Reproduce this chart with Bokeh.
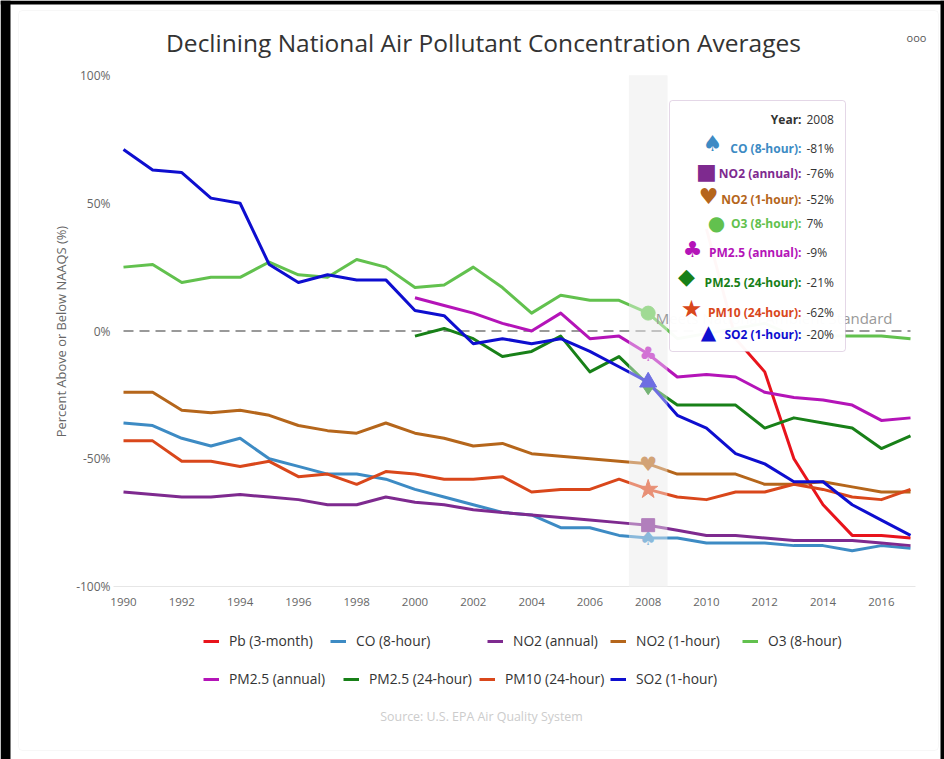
import math
import numpy as np
from bokeh.plotting import figure
from bokeh.models import Legend, LegendItem, Label, BoxAnnotation, FixedTicker, Range1d
from bokeh.core.properties import value
from bokeh.embed import file_html
from bokeh.resources import INLINE

# ---------------- data ----------------
years = list(range(1990, 2018))
pb      = [None]*20 + [40, -3, -16, -50, -68, -80, -80, -81]
co      = [-36, -37, -42, -45, -42, -50, -53, -56, -56, -58, -62, -65, -68, -71, -72, -77, -77, -80, -81, -81, -83, -83, -83, -84, -84, -86, -84, -85]
no2_ann = [-63, -64, -65, -65, -64, -65, -66, -68, -68, -65, -67, -68, -70, -71, -72, -73, -74, -75, -76, -78, -80, -80, -81, -82, -82, -82, -83, -84]
no2_1h  = [-24, -24, -31, -32, -31, -33, -37, -39, -40, -36, -40, -42, -45, -44, -48, -49, -50, -51, -52, -56, -56, -56, -60, -60, -59, -61, -63, -63]
o3      = [25, 26, 19, 21, 21, 27, 22, 21, 28, 25, 17, 18, 25, 17, 7, 14, 12, 12, 7, -3, -1, 1, 3, -2, -2, -2, -2, -3]
pm25_ann = [None]*10 + [13, 10, 7, 3, 0, 7, -3, -2, -9, -18, -17, -18, -24, -26, -27, -29, -35, -34]
pm25_24h = [None]*10 + [-2, 1, -3, -10, -8, -2, -16, -10, -21, -29, -29, -29, -38, -34, -36, -38, -46, -41]
pm10    = [-43, -43, -51, -51, -53, -51, -57, -56, -60, -55, -56, -58, -58, -57, -63, -62, -62, -58, -62, -65, -66, -63, -63, -60, -62, -65, -66, -62]
so2     = [71, 63, 62, 52, 50, 26, 19, 22, 20, 20, 8, 6, -5, -3, -5, -3, -8, -14, -20, -33, -38, -48, -52, -59, -59, -68, -74, -80]

names = ["Pb (3-month)", "CO (8-hour)", "NO2 (annual)", "NO2 (1-hour)", "O3 (8-hour)",
         "PM2.5 (annual)", "PM2.5 (24-hour)", "PM10 (24-hour)", "SO2 (1-hour)"]
series = [pb, co, no2_ann, no2_1h, o3, pm25_ann, pm25_24h, pm10, so2]
colors = ["#e8141c", "#3d8bc4", "#7e2a8f", "#b5661b", "#62c14e",
          "#b414b8", "#188018", "#d9471b", "#0e0ecf"]
markers = [None, "spade", "square", "heart", "circle", "club", "diamond", "star", "triangle"]
symbol_chars = {"spade": "\u2660", "square": "\u25a0", "heart": "\u2665", "circle": "\u25cf",
                "club": "\u2663", "diamond": "\u25c6", "star": "\u2605", "triangle": "\u25b2"}

y_ticks = [-100, -50, 0, 50, 100]
x_ticks = list(range(1990, 2017, 2))
hover_year = 2008
standard_level = 0
y_min, y_max = -100, 100

title_text = "Declining National Air Pollutant Concentration Averages"
y_label = "Percent Above or Below NAAQS (%)"
source_text = "Source: U.S. EPA Air Quality System"
standard_text = "Meets National Ambient Standard"

# ---------------- layout (page pixels) ----------------
W, H = 944, 759
PLOT_L, PLOT_R, PLOT_T, PLOT_B = 113, 915, 75, 586   # plotting area in page pixels
PX_FIRST, PX_LAST = 123, 910                          # pixel x of first / last year
k = (PX_LAST - PX_FIRST) / (years[-1] - years[0])
ky = (PLOT_B - PLOT_T) / (y_max - y_min)

def dx(px):
    return years[0] + (px - PX_FIRST) / k

def dy(py):
    return y_max - (py - PLOT_T) / ky

FONT = "Open Sans"

p = figure(width=W, height=H, x_range=Range1d(dx(0), dx(W)), y_range=Range1d(dy(H), dy(0)),
           output_backend="svg", toolbar_location=None,
           min_border_left=0, min_border_right=0, min_border_top=0, min_border_bottom=0)
p.title.visible = False
p.outline_line_color = None
p.xgrid.visible = False
p.ygrid.visible = False
p.background_fill_color = "white"
p.border_fill_color = "white"

# axes (library axes, drawn at fixed locations inside the canvas)
p.yaxis.fixed_location = dx(PLOT_L)
p.yaxis.bounds = (y_min, y_max)
p.yaxis.ticker = FixedTicker(ticks=y_ticks)
p.yaxis.major_label_overrides = {t: f"{t}%" for t in y_ticks}
p.yaxis.axis_line_color = None
p.yaxis.major_tick_line_color = None
p.yaxis.minor_tick_line_color = None
p.yaxis.major_tick_out = 0
p.yaxis.major_tick_in = 0
p.yaxis.major_label_standoff = 3
p.yaxis.major_label_text_font = FONT
p.yaxis.major_label_text_font_size = "12px"
p.yaxis.major_label_text_color = "#666666"

p.xaxis.fixed_location = y_min
p.xaxis.bounds = (dx(PLOT_L), dx(PLOT_R))
p.xaxis.ticker = FixedTicker(ticks=x_ticks)
p.xaxis.major_label_overrides = {t: str(t) for t in x_ticks}
p.xaxis.axis_line_color = "#e6e6e6"
p.xaxis.major_tick_line_color = None
p.xaxis.minor_tick_line_color = None
p.xaxis.major_tick_out = 0
p.xaxis.major_tick_in = 0
p.xaxis.major_label_standoff = 11
p.xaxis.major_label_text_font = FONT
p.xaxis.major_label_text_font_size = "11.5px"
p.xaxis.major_label_text_color = "#666666"

# page frame decoration (dark border and card edge)
for l, r, t, b in [(0, 10, 0, H), (0, W, 0, 4), (940, W, 0, H)]:
    p.add_layout(BoxAnnotation(left=dx(l), right=dx(r), top=dy(t), bottom=dy(b),
                               fill_color="black", fill_alpha=1, line_color=None, level="underlay"))
p.add_layout(BoxAnnotation(left=dx(18), right=dx(938), top=dy(10), bottom=dy(750),
                           fill_alpha=0, line_color="#e4e4e4", line_width=1, border_radius=4,
                           level="underlay"))

# hover band (under)
p.add_layout(BoxAnnotation(left=hover_year - 0.66, right=hover_year + 0.66, top=y_max, bottom=y_min,
                           fill_color="#eeeeee", fill_alpha=1.0, line_color=None, level="underlay"))

# y axis title
p.add_layout(Label(x=dx(60), y=dy(331), text=y_label, angle=math.pi / 2, text_align="center",
                   text_baseline="middle", text_font=FONT, text_font_size="12.9px", text_color="#666666"))

# standard line
p.line(x=[years[0], years[-1]], y=[standard_level, standard_level], line_color="#999999",
       line_width=2, line_dash="10 6")

renderers = []
for vals, c in zip(series, colors):
    arr = np.array(vals, dtype=float)
    r = p.line(x=years, y=arr, line_color=c, line_width=3, line_join="round")
    renderers.append(r)

# hover markers at 2008
idx = years.index(hover_year)
for vals, c, m in zip(series, colors, markers):
    v = vals[idx]
    if v is None or m is None:
        continue
    if m in ("spade", "heart", "club"):
        p.text(x=[hover_year], y=[v], text=[symbol_chars[m]], text_color=c,
               text_font=value("DejaVu Sans"), text_font_size="20px",
               text_align="center", text_baseline="middle")
    else:
        size = {"square": 13, "circle": 14, "diamond": 20, "star": 20, "triangle": 17}[m]
        p.scatter(x=[hover_year], y=[v], marker=m, size=size, fill_color=c, line_color=c)

# lighten overlay over band
p.add_layout(BoxAnnotation(left=hover_year - 0.66, right=hover_year + 0.66, top=y_max, bottom=y_min,
                           fill_color="white", fill_alpha=0.4, line_color=None))

# standard label (mostly hidden by tooltip)
p.add_layout(Label(x=dx(892), y=dy(317), text=standard_text, text_align="right",
                   text_baseline="middle", text_font=FONT, text_font_size="15px",
                   text_color="#999999"))

# tooltip box
p.add_layout(BoxAnnotation(left=dx(669), right=dx(845), top=dy(100), bottom=dy(351),
                           fill_color="white", fill_alpha=0.97, line_color="#a77bb0",
                           line_width=1, border_radius=3))

row_y = [148, 173, 199, 223, 252, 282, 312, 334]
sym_pos = [(712, 143), (706, 171), (708, 196), (716, 222), (692, 249), (686, 276), (691, 308), (708, 331)]
sym_size = ["22px", "22px", "22px", "20px", "22px", "22px", "24px", "20px"]

p.add_layout(Label(x=dx(801), y=dy(119), text="Year:", text_align="right", text_baseline="middle",
                   text_font=FONT, text_font_size="12px", text_font_style="bold", text_color="#333333"))
p.add_layout(Label(x=dx(806), y=dy(119), text=str(hover_year), text_align="left", text_baseline="middle",
                   text_font=FONT, text_font_size="12px", text_color="#333333"))

j = 0
for name, vals, c, m in zip(names, series, colors, markers):
    v = vals[idx]
    if v is None or m is None:
        continue
    p.add_layout(Label(x=dx(801), y=dy(row_y[j]), text=name + ":", text_align="right",
                       text_baseline="middle", text_font=FONT, text_font_size="12px",
                       text_font_style="bold", text_color=c))
    p.add_layout(Label(x=dx(806), y=dy(row_y[j]), text=f"{v}%", text_align="left",
                       text_baseline="middle", text_font=FONT, text_font_size="12px",
                       text_color="#333333"))
    sx, sy = sym_pos[j]
    p.add_layout(Label(x=dx(sx), y=dy(sy), text=symbol_chars[m], text_align="center",
                       text_baseline="middle", text_font="DejaVu Sans", text_font_size=sym_size[j],
                       text_color=c))
    j += 1

# title, menu icon, source
p.add_layout(Label(x=dx(483), y=dy(42), text=title_text, text_align="center", text_baseline="middle",
                   text_font=FONT, text_font_size="24.5px", text_color="#333333"))
p.add_layout(Label(x=dx(916), y=dy(37), text="ooo", text_align="center", text_baseline="middle",
                   text_font=FONT, text_font_size="11px", text_color="#555555"))
p.add_layout(Label(x=dx(481), y=dy(716), text=source_text, text_align="center", text_baseline="middle",
                   text_font=FONT, text_font_size="12.4px", text_color="#cccccc"))

# legends (one per item, flowing in two rows)
leg_pos = [(203, 642), (330, 642), (487, 642), (610, 642), (742, 642),
           (203, 680), (343, 680), (479, 680), (610, 680)]
for name, r, (gx, gy) in zip(names, renderers, leg_pos):
    leg = Legend(items=[LegendItem(label=name, renderers=[r])],
                 location=(gx, H - (gy + 8)), orientation="horizontal",
                 padding=0, margin=0, border_line_color=None, background_fill_alpha=0,
                 label_text_font=FONT, label_text_font_size="13.8px", label_text_color="#333333",
                 glyph_width=16, glyph_height=16, label_height=16, label_standoff=10)
    p.add_layout(leg)

open("out.html", "w").write(file_html(p, INLINE))
